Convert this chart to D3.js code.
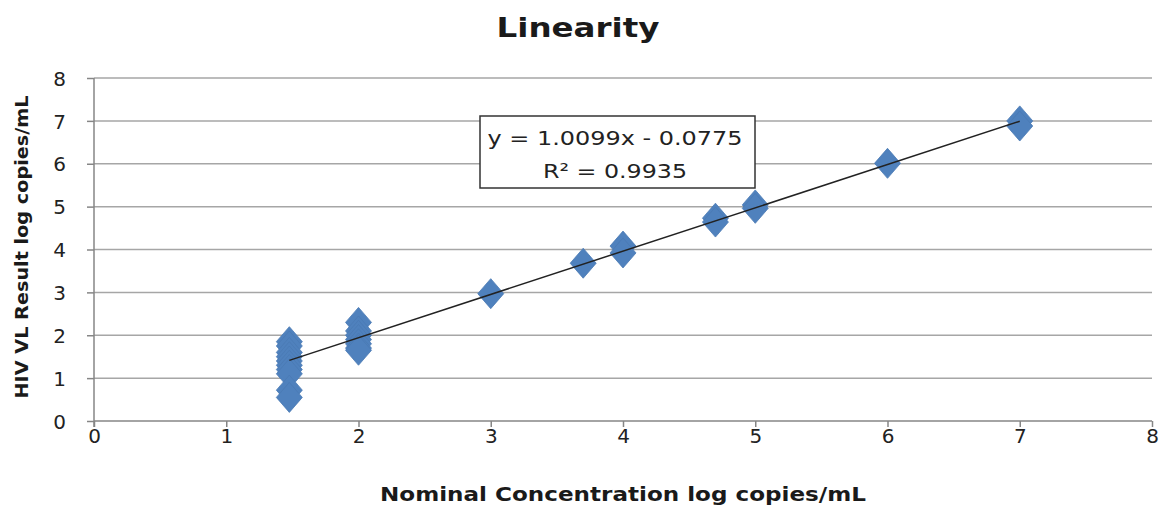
<!DOCTYPE html>
<html><head><meta charset="utf-8">
<script src="https://cdn.jsdelivr.net/npm/d3@7/dist/d3.min.js"></script>
<style>body{margin:0;background:#fff}svg{display:block}</style>
</head><body><svg id="c" width="1162" height="506"></svg>
<script>
// Data
const nominal = [1.477,1.477,1.477,1.477,1.477,1.477,1.477,1.477,1.477,1.477,
                 2,2,2,2,2,2,2,
                 3,3.699,4,4,4.699,4.699,5,5,6,7,7];
const measured = [1.85,1.75,1.6,1.5,1.4,1.3,1.2,1.1,0.72,0.55,
                  2.3,2.1,2.0,1.9,1.8,1.7,1.65,
                  2.97,3.68,4.08,3.92,4.73,4.64,5.04,4.96,6.01,7.0,6.88];
const xTicks = [0,1,2,3,4,5,6,7,8];
const yTicks = [0,1,2,3,4,5,6,7,8];
const slope = 1.0099, intercept = -0.0775;
const eqLine1 = "y = 1.0099x - 0.0775";
const eqLine2 = "R² = 0.9935";
const title = "Linearity";
const xTitle = "Nominal Concentration log copies/mL";
const yTitle = "HIV VL Result log copies/mL";

const svg = d3.select("#c");
const L = 94, R = 1152, T = 78, B = 421;
const x = d3.scaleLinear().domain([0,8]).range([L,R]);
const y = d3.scaleLinear().domain([0,8]).range([B,T]);
const font = "'DejaVu Sans', Verdana, sans-serif";

// gridlines
svg.append("g").selectAll("line").data(yTicks.filter(d=>d>0)).join("line")
  .attr("x1",L).attr("x2",R).attr("y1",d=>y(d)).attr("y2",d=>y(d))
  .attr("stroke","#a6a6a6").attr("stroke-width",1.5);

// axes
const xAxis = svg.append("g").attr("transform",`translate(0,${B})`)
  .call(d3.axisBottom(x).tickValues(xTicks).tickSize(6).tickPadding(4).tickFormat(d3.format("d")));
const yAxis = svg.append("g").attr("transform",`translate(${L},0)`)
  .call(d3.axisLeft(y).tickValues(yTicks).tickSize(7).tickPadding(21).tickFormat(d3.format("d")));
[xAxis,yAxis].forEach(g=>{
  g.select(".domain").attr("stroke","#868686").attr("stroke-width",1.5);
  g.selectAll(".tick line").attr("stroke","#868686").attr("stroke-width",1.5);
  g.selectAll(".tick text").attr("font-family",font).attr("font-size",20).attr("fill","#222");
});
yAxis.selectAll(".tick text").attr("dy","0.36em");
xAxis.selectAll(".tick text").attr("dy","0.62em");
xAxis.select(".domain").attr("d",`M${L},0H${R}`);
yAxis.select(".domain").attr("d",`M0,${B+6}V${T}`);

// points (diamonds)
const dw = 13, dh = 15;
svg.append("g").selectAll("path").data(nominal.map((v,i)=>[v,measured[i]])).join("path")
  .attr("d",d=>{const cx=x(d[0]), cy=y(d[1]);
    return `M${cx},${cy-dh}L${cx+dw},${cy}L${cx},${cy+dh}L${cx-dw},${cy}Z`;})
  .attr("fill","#4F81BD").attr("stroke","#4a7ab4").attr("stroke-width",0.8);

// trendline
const xmin = d3.min(nominal), xmax = d3.max(nominal);
svg.append("line")
  .attr("x1",x(xmin)).attr("y1",y(slope*xmin+intercept))
  .attr("x2",x(xmax)).attr("y2",y(slope*xmax+intercept))
  .attr("stroke","#222").attr("stroke-width",1.5);

// equation box
svg.append("rect").attr("x",480).attr("y",116).attr("width",275).attr("height",72)
  .attr("fill","#fff").attr("stroke","#333").attr("stroke-width",1.5);
svg.append("text").attr("x",615).attr("y",145).attr("text-anchor","middle")
  .attr("font-family",font).attr("font-size",20).attr("fill","#222")
  .attr("textLength",255).attr("lengthAdjust","spacingAndGlyphs").text(eqLine1);
svg.append("text").attr("x",615).attr("y",178).attr("text-anchor","middle")
  .attr("font-family",font).attr("font-size",20).attr("fill","#222")
  .attr("textLength",144).attr("lengthAdjust","spacingAndGlyphs").text(eqLine2);

// titles
svg.append("text").attr("x",578).attr("y",37).attr("text-anchor","middle")
  .attr("font-family",font).attr("font-weight","bold").attr("font-size",26).attr("fill","#1a1a1a")
  .attr("textLength",163).attr("lengthAdjust","spacingAndGlyphs").text(title);
svg.append("text").attr("x",623).attr("y",501).attr("text-anchor","middle")
  .attr("font-family",font).attr("font-weight","bold").attr("font-size",19).attr("fill","#1a1a1a")
  .attr("textLength",486).attr("lengthAdjust","spacingAndGlyphs").text(xTitle);
svg.append("text").attr("transform","translate(28,247) rotate(-90)").attr("text-anchor","middle")
  .attr("font-family",font).attr("font-weight","bold").attr("font-size",18).attr("fill","#1a1a1a")
  .attr("textLength",303).attr("lengthAdjust","spacingAndGlyphs").text(yTitle);
</script></body></html>
